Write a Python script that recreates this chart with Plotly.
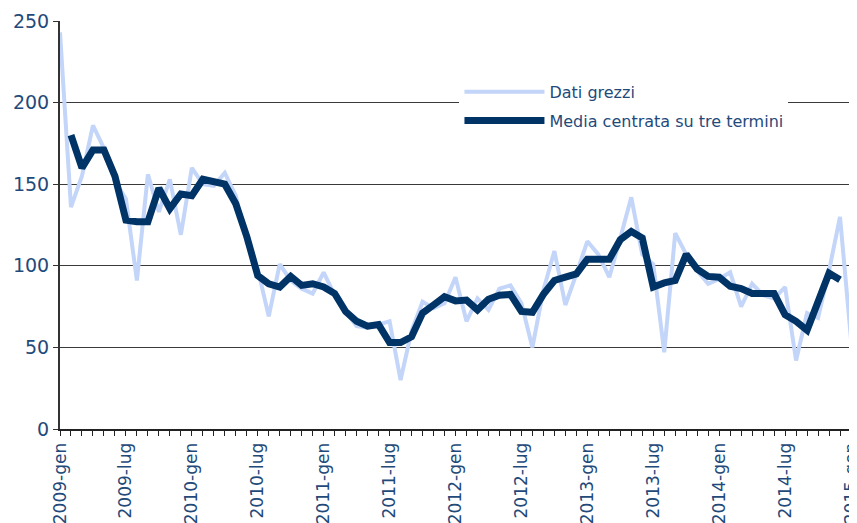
import plotly.graph_objects as go

years = [2009, 2010, 2011, 2012, 2013, 2014, 2015]
month_names = ["gen", "feb", "mar", "apr", "mag", "giu", "lug", "ago", "set", "ott", "nov", "dic"]
months = [f"{y}-{m}" for y in years for m in month_names][:73]

# Dati grezzi: 2009-gen .. 2015-gen
raw = [243, 136, 155, 186, 172, 152, 141, 91, 156, 133, 153, 119, 160,
       150, 149, 157, 143, 114, 98, 69, 101, 91, 86, 83, 96, 82,
       72, 63, 62, 64, 66, 30, 60, 78, 74, 77, 93, 66, 80,
       73, 86, 88, 77, 50, 85, 109, 76, 95, 115, 107, 93, 117,
       142, 107, 101, 47, 120, 107, 97, 89, 92, 96, 75, 89,
       82, 80, 87, 42, 71, 68, 97, 130, 55]

# Media centrata su tre termini: 2009-feb .. 2014-dic
ma = [180, 160, 171, 171, 155, 128, 127, 127, 147.5, 135, 144, 143,
      153, 152, 150, 138, 118, 94, 89, 87, 93.5, 88, 89, 87, 83,
      72, 66, 63, 64, 53, 53, 56.5, 71, 76, 81, 78.5, 79, 73,
      79.5, 82, 82.5, 72, 71.5, 82.5, 91, 93, 95, 104, 104, 104, 116,
      121, 117, 87, 89.5, 91, 107, 98, 93.5, 93, 87.5, 86, 83,
      83.5, 83, 70, 66, 60.5, 77, 95.5, 91.5]

tick_labels = ["2009-gen", "2009-lug", "2010-gen", "2010-lug", "2011-gen", "2011-lug",
               "2012-gen", "2012-lug", "2013-gen", "2013-lug", "2014-gen", "2014-lug", "2015-gen"]

x_raw = list(range(len(raw)))
x_ma = list(range(1, 1 + len(ma)))
tick_vals = [months.index(t) for t in tick_labels]

txt_color = "#1f4a7a"
font_family = "DejaVu Sans"

fig = go.Figure()
fig.add_trace(go.Scatter(
    x=x_raw, y=raw, mode="lines", name="Dati grezzi",
    text=months, hovertemplate="%{text}: %{y}<extra></extra>",
    line=dict(color="#c3d5f8", width=4), legendgroup="a"))
fig.add_trace(go.Scatter(
    x=x_ma, y=ma, mode="lines", name="Media centrata su tre termini",
    text=months[1:1 + len(ma)], hovertemplate="%{text}: %{y}<extra></extra>",
    line=dict(color="#003366", width=7), legendgroup="b"))

# the page body adds an 8px offset; figure size/margins compensate for it
fig.update_layout(
    width=849, height=515,
    margin=dict(l=52, r=6, t=13, b=94),
    paper_bgcolor="white", plot_bgcolor="white",
    font=dict(family=font_family, size=15, color=txt_color),
    showlegend=True,
    legend=dict(x=0.505, y=0.868, xanchor="left", yanchor="top",
                bgcolor="white", borderwidth=0, itemwidth=80,
                tracegroupgap=5,
                font=dict(family=font_family, size=16, color=txt_color)),
    xaxis=dict(range=[0, 72], tickmode="array", tickvals=tick_vals, ticktext=tick_labels,
               tickangle=-90, showgrid=False, zeroline=False, automargin=False,
               ticklabeloverflow="allow",
               showline=True, linecolor="#222", linewidth=2,
               ticks="outside", ticklen=5, tickcolor="#222", tickwidth=1,
               minor=dict(dtick=1, tick0=0, ticks="outside", ticklen=5, tickcolor="#222", showgrid=False),
               tickfont=dict(family=font_family, size=17, color=txt_color)),
    yaxis=dict(range=[0, 250], dtick=50, showgrid=True, gridcolor="#3a3a3a", gridwidth=1,
               zeroline=False, showline=True, linecolor="#333", linewidth=2, automargin=False,
               ticks="outside", ticklen=5, tickcolor="#333",
               tickfont=dict(family=font_family, size=19, color=txt_color)),
    shapes=[dict(type="line", xref="paper", yref="paper", x0=1, x1=1, y0=0, y1=1,
                 line=dict(color="#8a8a8a", width=2))],
)

fig.write_html("out.html")
